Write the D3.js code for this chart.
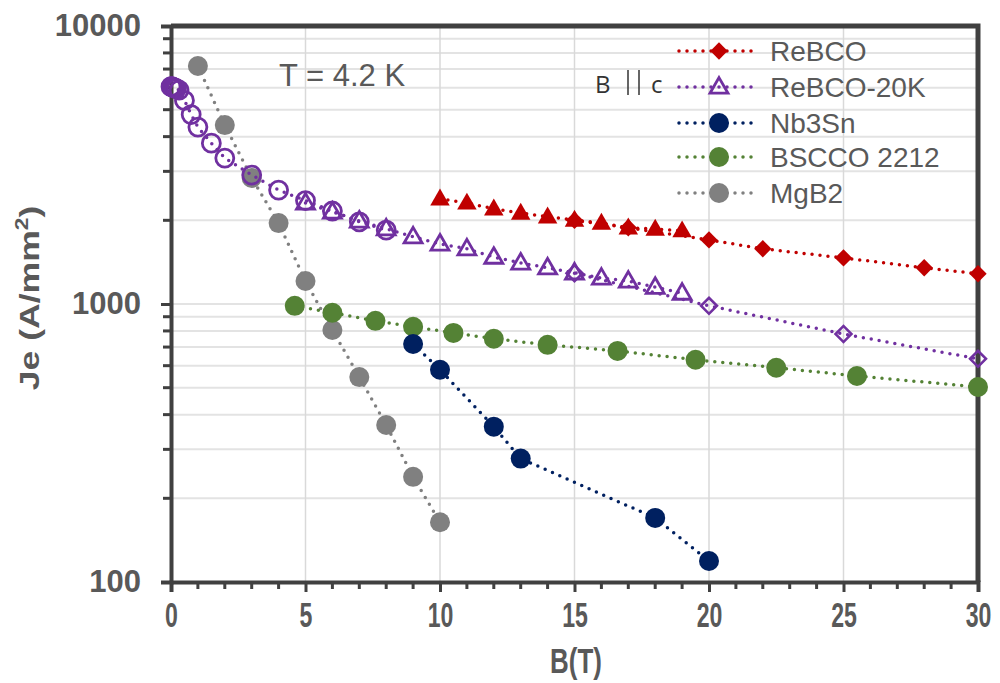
<!DOCTYPE html>
<html>
<head>
<meta charset="utf-8">
<script src="https://cdn.jsdelivr.net/npm/d3@7"></script>
<style>
  body { margin: 0; background: #fff; }
  svg { display: block; font-family: "Liberation Sans", Arial, sans-serif; }
</style>
</head>
<body>
<div id="chart"></div>
<script>
// データ (B[T], Je[A/mm2])
var rebcoB = [15, 17, 20, 22, 25, 28, 30];
var rebcoJe = [2000, 1880, 1700, 1580, 1465, 1350, 1285];
var rebcoTriB = [10, 11, 12, 13, 14, 15, 16, 17, 18, 19];
var rebcoTriJe = [2390, 2310, 2200, 2125, 2060, 2005, 1955, 1880, 1860, 1835];

var rebco20CircB = [0, 0.03, 0.06, 0.1, 0.15, 0.2, 0.3, 0.5, 0.75, 1, 1.5, 2, 3, 4, 5, 6, 7, 8];
var rebco20CircJe = [6050, 6050, 6030, 6000, 5980, 5950, 5880, 5400, 4800, 4330, 3790, 3350, 2910, 2570, 2355, 2160, 1975, 1845];
var rebco20TriB = [5, 6, 7, 8, 9, 10, 11, 12, 13, 14, 15, 16, 17, 18, 19];
var rebco20TriJe = [2310, 2145, 1990, 1865, 1745, 1645, 1580, 1475, 1405, 1350, 1295, 1240, 1210, 1150, 1095];
var rebco20DiaB = [15, 20, 25, 30];
var rebco20DiaJe = [1290, 985, 780, 635];

var nb3snB = [9, 10, 12, 13, 18, 20];
var nb3snJe = [718, 580, 362, 278, 170, 119];

var bsccoB = [4.6, 6, 7.6, 9, 10.5, 12, 14, 16.6, 19.5, 22.5, 25.5, 30];
var bsccoJe = [985, 930, 870, 828, 787, 750, 713, 678, 630, 590, 551, 503];

var mgb2B = [1, 2, 3, 4, 5, 6, 7, 8, 9, 10];
var mgb2Je = [7180, 4400, 2840, 1955, 1210, 806, 546, 367, 239, 164];

var xTicks = [0, 5, 10, 15, 20, 25, 30];
var yTicks = [100, 1000, 10000];
var legendNames = ["ReBCO", "ReBCO-20K", "Nb3Sn", "BSCCO 2212", "MgB2"];

var width = 1000;
var height = 683;
var pLeft = 171, pRight = 978, pTop = 26, pBottom = 582;
var textGray = "#595959";
var axisColor = "#404040";

var svg = d3.select("#chart").append("svg")
  .attr("width", width)
  .attr("height", height);

var x = d3.scaleLinear().domain([0, 30]).range([pLeft, pRight]);
var y = d3.scaleLog().domain([100, 10000]).range([pBottom, pTop]);

// 補助目盛 (対数)
var yMinor = [];
[100, 1000].forEach(function(dec) {
  for (var k = 2; k <= 9; k++) yMinor.push(dec * k);
});

// グリッド
svg.append("g").selectAll("line").data(yMinor.concat([1000])).enter().append("line")
  .attr("x1", pLeft).attr("x2", pRight)
  .attr("y1", function(d) { return y(d); })
  .attr("y2", function(d) { return y(d); })
  .attr("stroke", "#e3e3e3")
  .attr("stroke-width", 2);

svg.append("g").selectAll("line").data([5, 10, 15, 20, 25]).enter().append("line")
  .attr("x1", function(d) { return x(d); })
  .attr("x2", function(d) { return x(d); })
  .attr("y1", pTop).attr("y2", pBottom)
  .attr("stroke", "#d9d9d9")
  .attr("stroke-width", 1.5);

// 枠線 (上・右)
svg.append("path")
  .attr("d", "M" + pLeft + "," + pTop + "H" + pRight + "V" + pBottom)
  .attr("fill", "none")
  .attr("stroke", axisColor)
  .attr("stroke-width", 5);

// x軸 (縦長の数字)
var xAxis = svg.append("g")
  .attr("transform", "translate(0," + pBottom + ")")
  .call(d3.axisBottom(x).tickValues(xTicks).tickSize(10).tickPadding(10).tickFormat(d3.format("d")));
xAxis.select(".domain").attr("stroke", axisColor).attr("stroke-width", 4);
xAxis.selectAll(".tick line").attr("stroke", axisColor).attr("stroke-width", 3);
xAxis.selectAll(".tick text")
  .attr("fill", textGray)
  .attr("font-size", "35px")
  .attr("font-weight", "bold")
  .attr("font-family", "Liberation Sans, Arial, sans-serif")
  .attr("transform", "scale(0.66,1)");

svg.append("g").selectAll("line").data(d3.range(1, 30).filter(function(d) { return d % 5 != 0; }))
  .enter().append("line")
  .attr("x1", function(d) { return x(d); })
  .attr("x2", function(d) { return x(d); })
  .attr("y1", pBottom).attr("y2", pBottom + 7)
  .attr("stroke", axisColor)
  .attr("stroke-width", 3);

// y軸
var yAxis = svg.append("g")
  .attr("transform", "translate(" + pLeft + ",0)")
  .call(d3.axisLeft(y).tickValues(yTicks).tickSize(10).tickPadding(20).tickFormat(d3.format("d")));
yAxis.select(".domain").attr("stroke", axisColor).attr("stroke-width", 4);
yAxis.selectAll(".tick line").attr("stroke", axisColor).attr("stroke-width", 3);
yAxis.selectAll(".tick text")
  .attr("fill", textGray)
  .attr("font-size", "31px")
  .attr("font-weight", "bold")
  .attr("font-family", "Liberation Sans, Arial, sans-serif");

svg.append("g").selectAll("line").data(yMinor)
  .enter().append("line")
  .attr("x1", pLeft - 8).attr("x2", pLeft)
  .attr("y1", function(d) { return y(d); })
  .attr("y2", function(d) { return y(d); })
  .attr("stroke", axisColor)
  .attr("stroke-width", 3);

// 軸タイトル
var xtc = 576;
svg.append("text")
  .attr("x", xtc).attr("y", 673)
  .attr("text-anchor", "middle")
  .attr("fill", textGray)
  .attr("font-size", "36px")
  .attr("font-weight", "bold")
  .attr("transform", "translate(" + xtc + ",0) scale(0.72,1) translate(" + (-xtc) + ",0)")
  .text("B(T)");

var yTitle = svg.append("text")
  .attr("transform", "translate(39,298) rotate(-90) scale(1.27,1)")
  .attr("text-anchor", "middle")
  .attr("fill", textGray)
  .attr("font-size", "28px")
  .attr("font-weight", "bold");
yTitle.append("tspan").text("Je (A/mm");
yTitle.append("tspan").attr("dy", -11).attr("font-size", "18px").text("2");
yTitle.append("tspan").attr("dy", 11).text(")");

// 系列の描画
var line = d3.line()
  .x(function(d) { return x(d[0]); })
  .y(function(d) { return y(d[1]); });

function zip(bs, js) {
  return bs.map(function(b, i) { return [b, js[i]]; });
}

var diamond = d3.symbol().type(d3.symbolSquare).size(150)();
var triangle = d3.symbol().type(d3.symbolTriangle).size(165)();
var triangleOpen = d3.symbol().type(d3.symbolTriangle).size(140)();

function drawSeries(data, color, kind) {
  svg.append("path")
    .datum(data)
    .attr("d", line)
    .attr("fill", "none")
    .attr("stroke", color)
    .attr("stroke-width", 3.5)
    .attr("stroke-linecap", "round")
    .attr("stroke-dasharray", "0,8");

  var g = svg.append("g").selectAll("g").data(data).enter().append("g")
    .attr("transform", function(d) { return "translate(" + x(d[0]) + "," + y(d[1]) + ")"; });
  drawMarker(g, color, kind);
}

function drawMarker(g, color, kind) {
  if (kind == "circle") {
    g.append("circle").attr("r", 10).attr("fill", color);
  } else if (kind == "circleOpen") {
    g.append("circle").attr("r", 9).attr("fill", "none").attr("stroke", color).attr("stroke-width", 2.8);
  } else if (kind == "diamond") {
    g.append("path").attr("d", diamond).attr("transform", "rotate(45)").attr("fill", color);
  } else if (kind == "diamondOpen") {
    g.append("path").attr("d", diamond).attr("transform", "rotate(45) scale(0.92)")
      .attr("fill", "none").attr("stroke", color).attr("stroke-width", 2.8);
  } else if (kind == "triangle") {
    g.append("path").attr("d", triangle).attr("transform", "translate(0,1)").attr("fill", color);
  } else if (kind == "triangleOpen") {
    g.append("path").attr("d", triangleOpen).attr("transform", "translate(0,1)")
      .attr("fill", "none").attr("stroke", color).attr("stroke-width", 2.8);
  }
}

var red = "#c00000", purple = "#7030a0", navy = "#002060", green = "#548235", gray = "#808080";

drawSeries(zip(mgb2B, mgb2Je), gray, "circle");
drawSeries(zip(bsccoB, bsccoJe), green, "circle");
drawSeries(zip(nb3snB, nb3snJe), navy, "circle");
drawSeries(zip(rebco20CircB, rebco20CircJe), purple, "circleOpen");
drawSeries(zip(rebco20TriB, rebco20TriJe), purple, "triangleOpen");
drawSeries(zip(rebco20DiaB, rebco20DiaJe), purple, "diamondOpen");
drawSeries(zip(rebcoTriB, rebcoTriJe), red, "triangle");
drawSeries(zip(rebcoB, rebcoJe), red, "diamond");

// 凡例
var legendColors = [red, purple, navy, green, gray];
var legendKinds = ["diamond", "triangleOpen", "circle", "circle", "circle"];
var legendY = [51, 87, 123, 157, 193];

var lg = svg.append("g").selectAll("g").data(legendNames).enter().append("g")
  .attr("transform", function(d, i) { return "translate(0," + legendY[i] + ")"; });
lg.append("line")
  .attr("x1", 679).attr("x2", 756)
  .attr("stroke", function(d, i) { return legendColors[i]; })
  .attr("stroke-width", 3.5)
  .attr("stroke-linecap", "round")
  .attr("stroke-dasharray", "0,8");
lg.each(function(d, i) {
  var m = d3.select(this).append("g").attr("transform", "translate(719,0)");
  drawMarker(m, legendColors[i], legendKinds[i]);
});
lg.append("text")
  .attr("x", 770)
  .attr("dy", "0.36em")
  .attr("fill", textGray)
  .attr("font-size", "28px")
  .text(function(d) { return d; });

// 注記
svg.append("text")
  .attr("x", 279).attr("y", 86)
  .attr("fill", textGray)
  .attr("font-size", "31px")
  .text("T = 4.2 K");

var bc = svg.append("g").attr("fill", "#333").attr("font-size", "24px")
  .attr("font-family", "Open Sans, sans-serif");
bc.append("text").attr("x", 595).attr("y", 93).text("B");
bc.append("line").attr("x1", 628).attr("x2", 628).attr("y1", 70).attr("y2", 95).attr("stroke", "#333").attr("stroke-width", 1.5);
bc.append("line").attr("x1", 639).attr("x2", 639).attr("y1", 70).attr("y2", 95).attr("stroke", "#333").attr("stroke-width", 1.5);
bc.append("text").attr("x", 651).attr("y", 93).text("c");
</script>
</body>
</html>
